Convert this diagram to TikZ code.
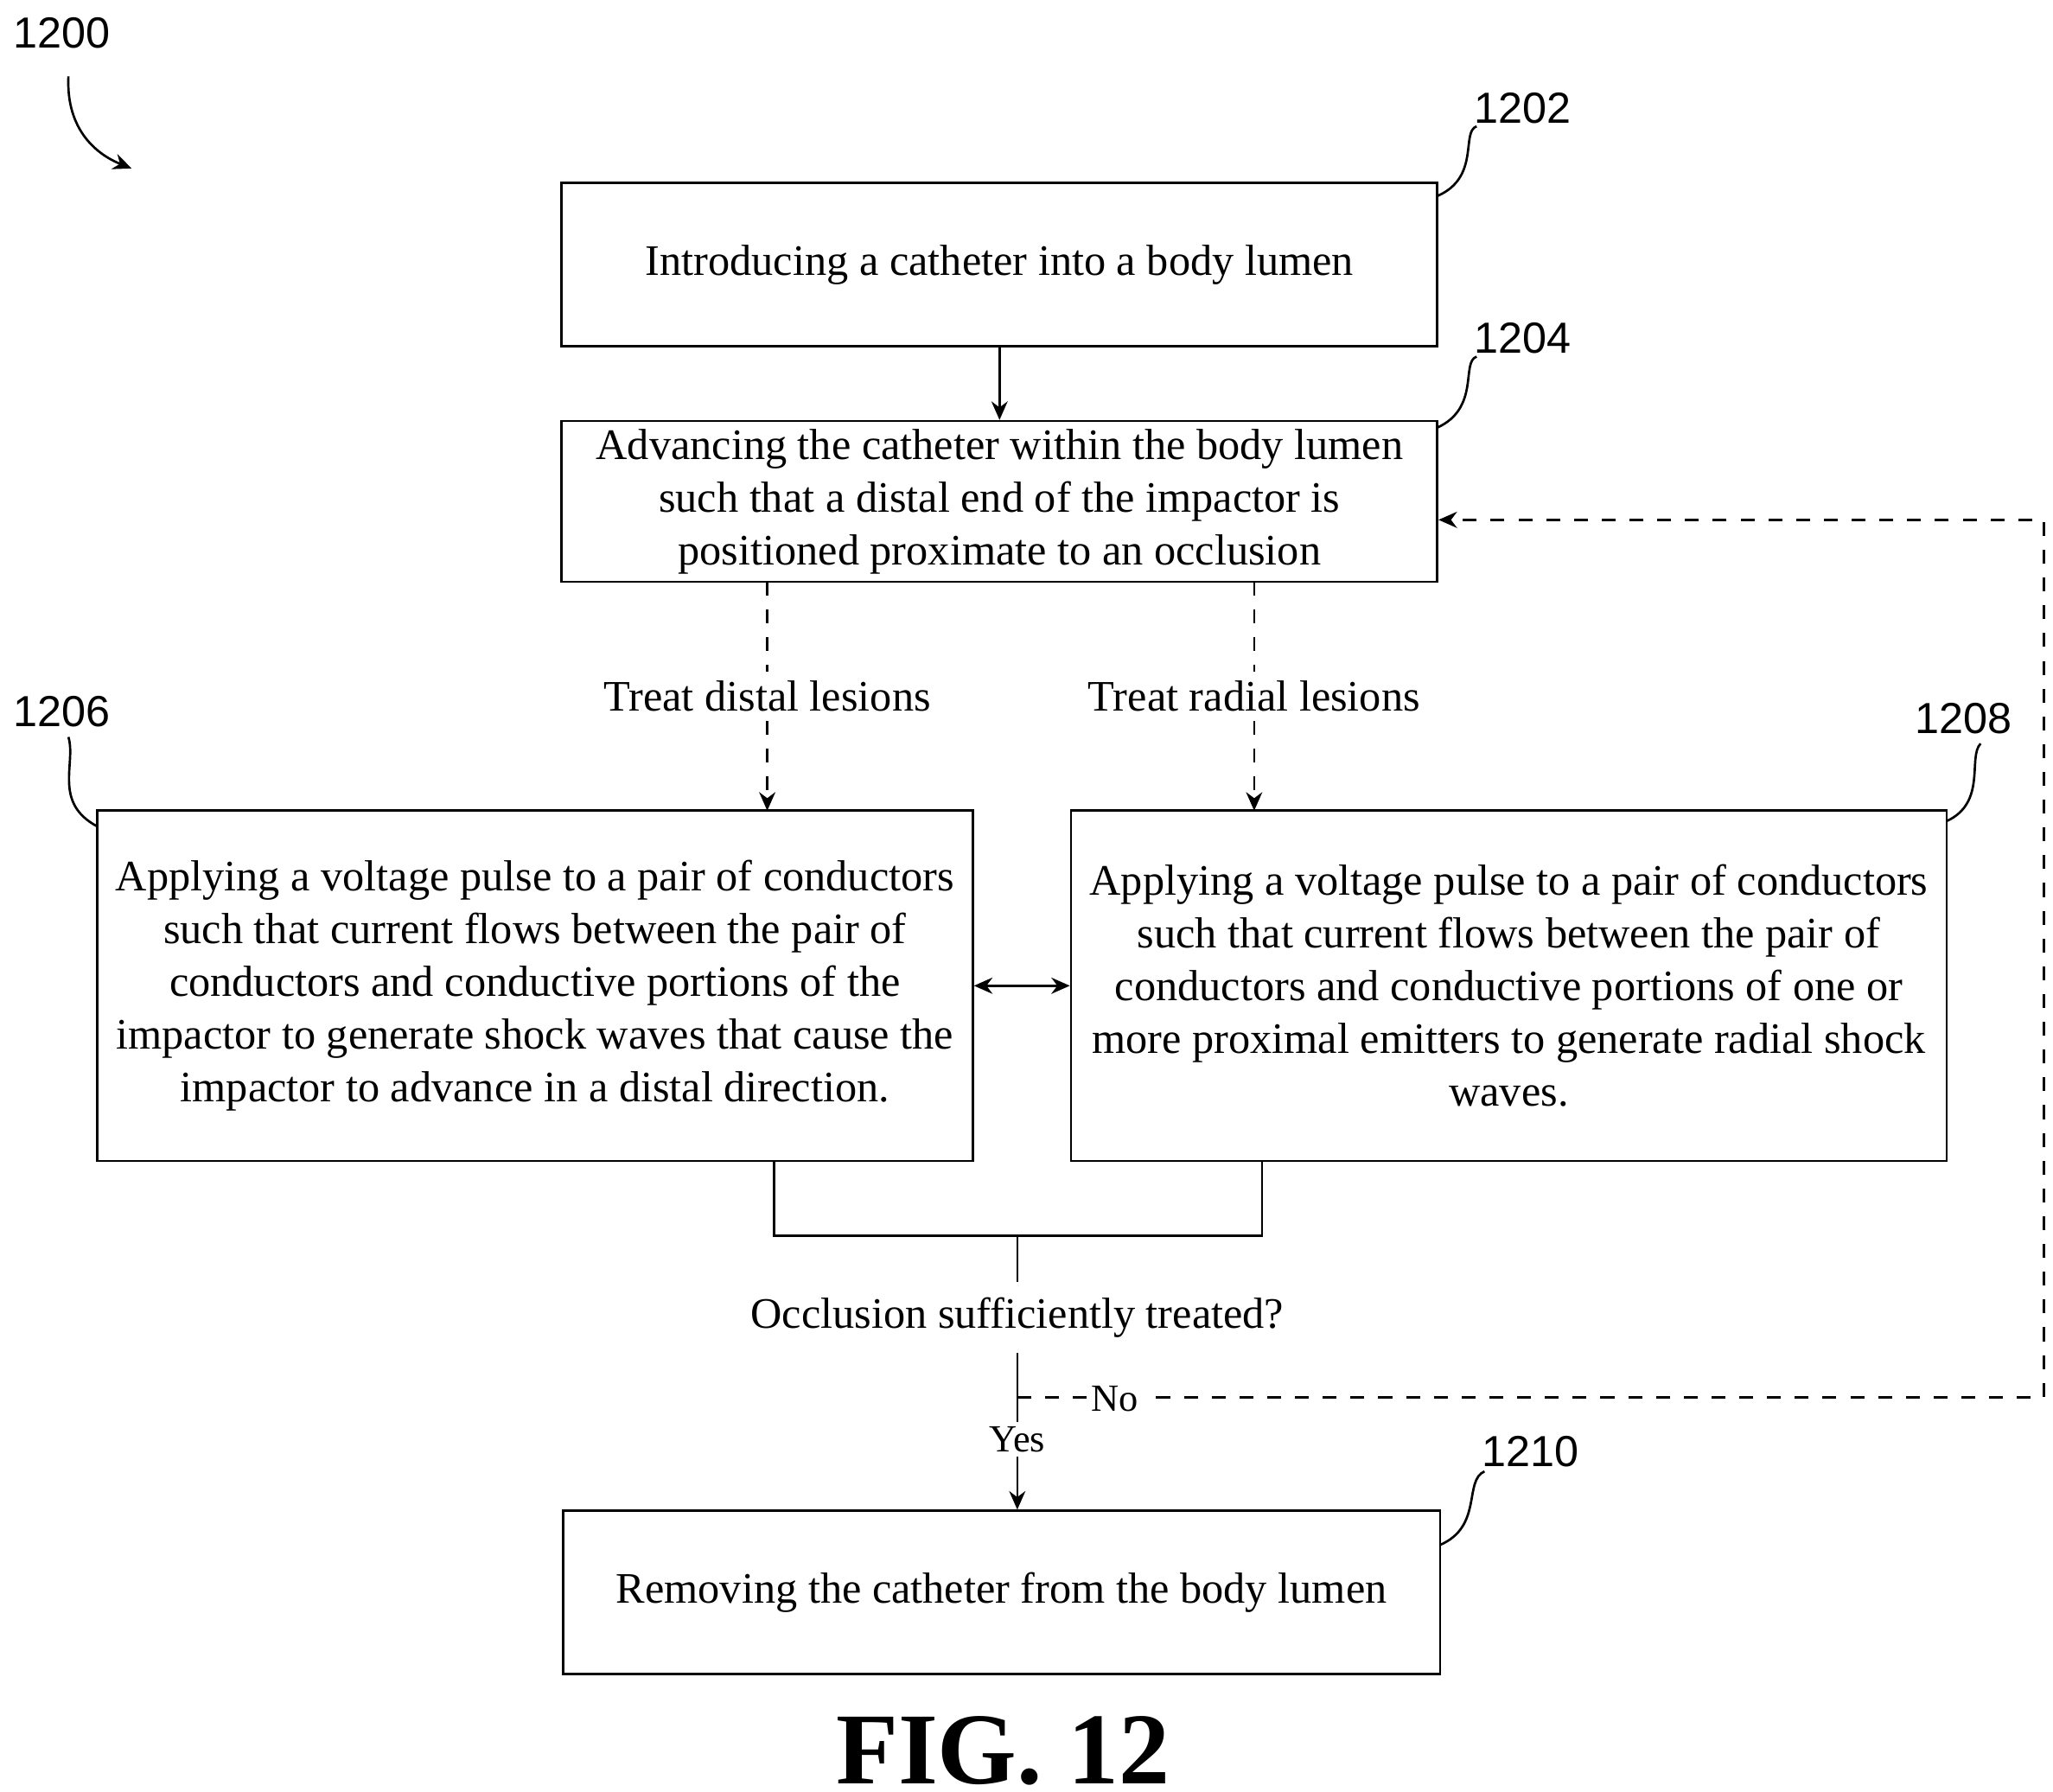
\documentclass[tikz,border=0pt]{standalone}
\usepackage{fontspec}
\setmainfont{Liberation Serif}
\newfontfamily\refnum{Liberation Sans}
\usetikzlibrary{arrows.meta}
\begin{document}
\fontsize{9.4pt}{11.4pt}\selectfont
\begin{tikzpicture}[x=0.01cm,y=-0.01cm,
    stepbox/.style={draw,line width=0.5pt,align=center,inner sep=0pt},
    flow/.style={-{Stealth[length=4pt,width=3.5pt]},line width=0.5pt},
    refno/.style={font=\refnum\fontsize{9.4pt}{11pt}\selectfont},
    lead/.style={line width=0.5pt}]
  \useasboundingbox (0,0) rectangle (1560,1361);

  % boxes
  \node[stepbox,minimum width=6.65cm,minimum height=1.24cm] (intro) at (759.5,201) {Introducing a catheter into a body lumen};
  \node[stepbox,minimum width=6.65cm,minimum height=1.22cm] (adv) at (759.5,381) {Advancing the catheter within the body lumen\\such that a distal end of the impactor is\\positioned proximate to an occlusion};
  \node[stepbox,minimum width=6.65cm,minimum height=2.66cm] (distal) at (406.5,749) {Applying a voltage pulse to a pair of conductors\\such that current flows between the pair of\\conductors and conductive portions of the\\impactor to generate shock waves that cause the\\impactor to advance in a distal direction.};
  \node[stepbox,minimum width=6.65cm,minimum height=2.66cm] (radial) at (1146.5,749) {Applying a voltage pulse to a pair of conductors\\such that current flows between the pair of\\conductors and conductive portions of one or\\more proximal emitters to generate radial shock\\waves.};
  \node[stepbox,minimum width=6.66cm,minimum height=1.24cm] (remove) at (761,1210) {Removing the catheter from the body lumen};

  % decision
  \coordinate (join) at (773,939);
  \node (ask) at (773,1001) {Occlusion sufficiently treated?};
  \coordinate (nofork) at (773,1062);
  \coordinate (farcorner) at (1553,1062);
  \coordinate (backin) at (1553,395);

  % branches
  \draw[flow,dashed] (583,442) -- node[fill=white,inner sep=2pt]{Treat distal lesions} (583,616);
  \draw[flow,dashed] (953,442) -- node[fill=white,inner sep=2pt]{Treat radial lesions} (953,616);
  \draw[flow] (intro) -- (adv);
  \draw[flow] (777,749) -- (distal.east);
  \draw[flow] (777,749) -- (radial.west);
  \draw[lead] (588,882) -- (588,939) -- (959,939) -- (959,882);
  \draw[lead] (join) -- (ask.north);
  \draw[flow] (ask.south) -- node[pos=0.55,fill=white,inner sep=1pt,font=\fontsize{8.3pt}{9pt}\selectfont]{Yes} (remove.north -| ask.south);
  \draw[flow,dashed] (nofork) -- (farcorner) -- (backin) -- (adv.east |- backin);
  \node[fill=white,inner sep=1pt,font=\fontsize{8.3pt}{9pt}\selectfont] at (847,1063) {No};

  % reference numbers
  \node[refno] (n1200) at (47,25) {1200};
  \draw[flow,lead] (52,58) .. controls (50,100) and (75,118) .. (100,128);
  \node[refno] (n1202) at (1157,82) {1202};
  \draw[lead] (1092,149) .. controls (1125,135) and (1110,100) .. (1122,96);
  \node[refno] (n1204) at (1157,257) {1204};
  \draw[lead] (1092,325) .. controls (1125,310) and (1110,275) .. (1122,271);
  \node[refno] (n1206) at (47,541) {1206};
  \draw[lead] (74,628) .. controls (40,610) and (58,580) .. (52,560);
  \node[refno] (n1208) at (1492,546) {1208};
  \draw[lead] (1479,624) .. controls (1510,610) and (1495,575) .. (1505,565);
  \node[refno] (n1210) at (1163,1103) {1210};
  \draw[lead] (1094,1174) .. controls (1127,1160) and (1112,1125) .. (1128,1118);

  \node[font=\bfseries\fontsize{22pt}{26pt}\selectfont] (fig) at (762,1330) {FIG. 12};
\end{tikzpicture}
\end{document}
